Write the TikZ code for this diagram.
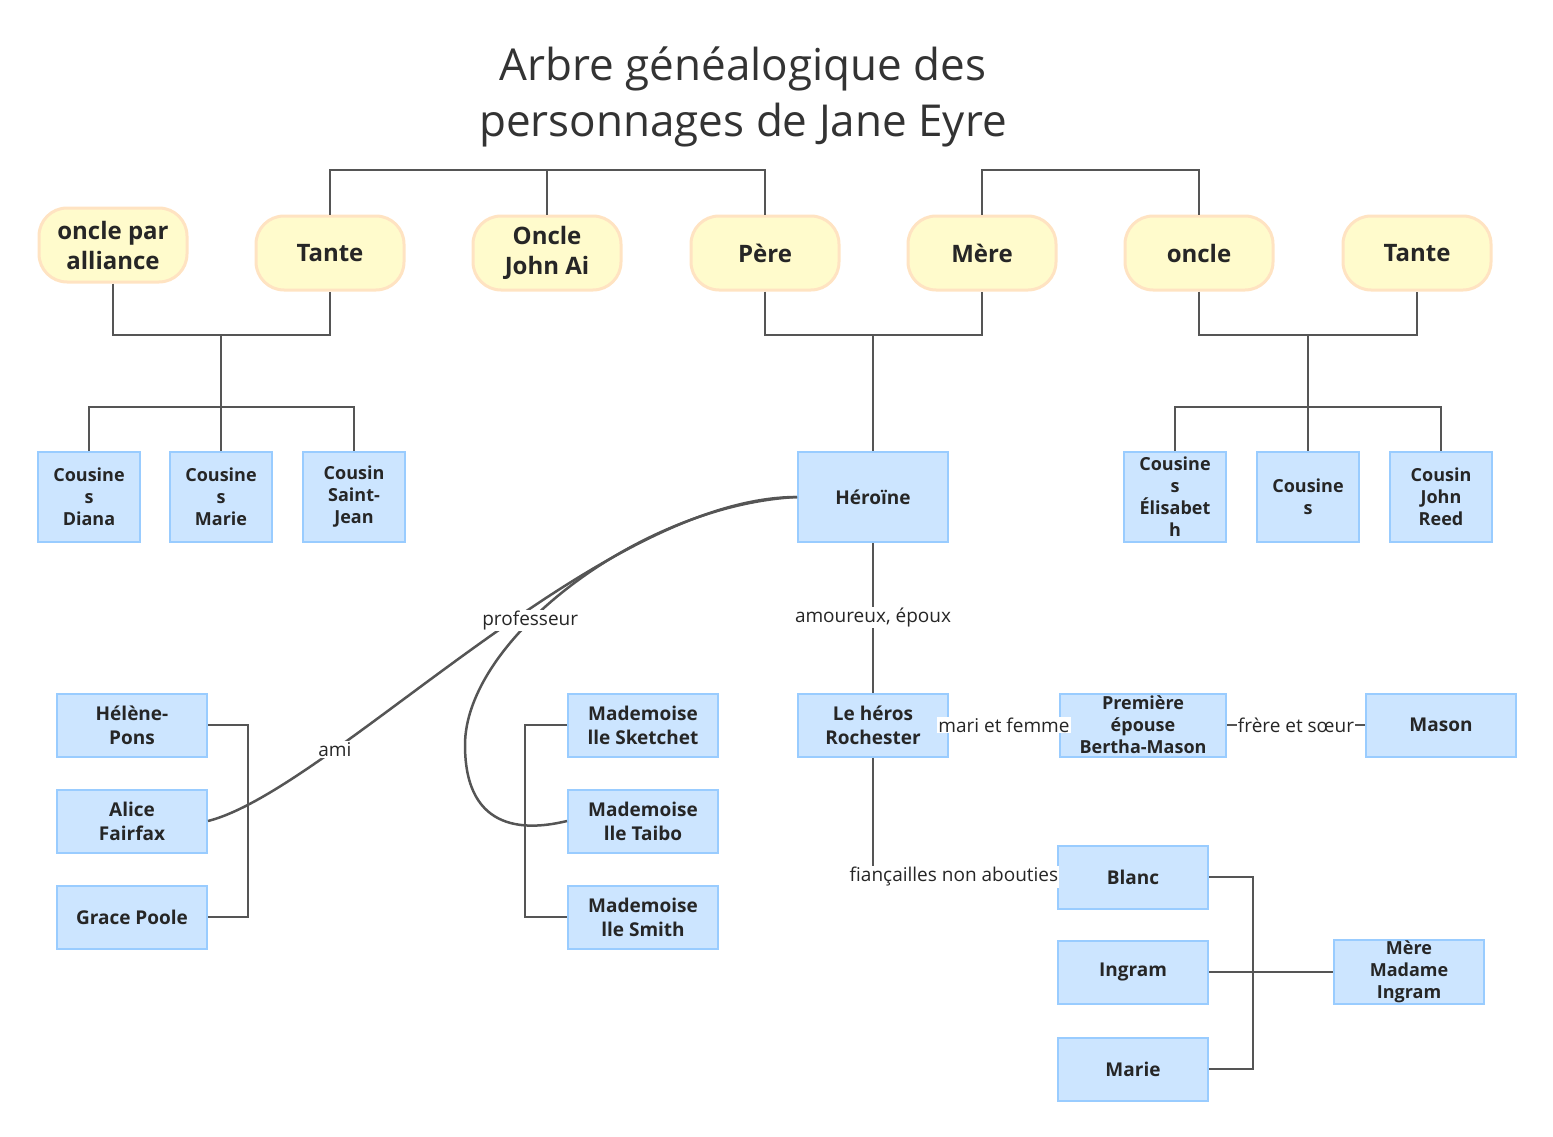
\documentclass[tikz,border=0pt]{standalone}
\usepackage{fontspec}
\setmainfont{Open Sans}
\usetikzlibrary{positioning}
\definecolor{parentfill}{HTML}{FFFBCC}
\definecolor{parentline}{HTML}{FFE3C2}
\definecolor{kidfill}{HTML}{CCE5FF}
\definecolor{kidline}{HTML}{99CCFF}
\definecolor{wire}{HTML}{555555}
\tikzset{
  parent/.style={rectangle,rounded corners=28pt,draw=parentline,line width=3pt,fill=parentfill,
    minimum width=148pt,minimum height=74pt,align=center,font=\fontsize{24}{30}\selectfont\bfseries,text=black!85},
  kid/.style={rectangle,draw=kidline,line width=2pt,fill=kidfill,minimum width=150pt,minimum height=63pt,
    inner sep=1pt,align=center,font=\fontsize{19}{24}\selectfont\bfseries,text=black!85},
  cousin/.style={kid,minimum width=102pt,minimum height=90pt,font=\fontsize{18}{22}\selectfont\bfseries},
  link/.style={draw=wire,line width=2.5pt},
  tag/.style={fill=white,inner sep=1pt,font=\fontsize{19}{24}\selectfont,text=black!85}
}
\begin{document}
\begin{tikzpicture}[x=1pt,y=-1pt]
  \useasboundingbox (0,0) rectangle (1553,1137);
  \node[align=center,font=\fontsize{44}{56}\selectfont,text=black!80] (title) at (743,97) {Arbre généalogique des\\personnages de Jane Eyre};
  % parents
  \node[parent] (alliance) at (113,245) {oncle par\\alliance};
  \node[parent] (tante1) at (330,253) {Tante};
  \node[parent] (johnai) at (547,253) {Oncle\\John Ai};
  \node[parent] (pere) at (765,253) {Père};
  \node[parent] (mere) at (982,253) {Mère};
  \node[parent] (oncle) at (1199,253) {oncle};
  \node[parent] (tante2) at (1417,253) {Tante};
  % cousins
  \node[cousin] (diana) at (89,497) {Cousine\\s\\Diana};
  \node[cousin] (marie1) at (221,497) {Cousine\\s\\Marie};
  \node[cousin] (stjean) at (354,497) {Cousin\\Saint-\\Jean};
  \node[kid,minimum height=90pt] (heroine) at (873,497) {Héroïne};
  \node[cousin] (elisabeth) at (1175,497) {Cousine\\s\\Élisabet\\h};
  \node[cousin] (cousines) at (1308,497) {Cousine\\s};
  \node[cousin] (reed) at (1441,497) {Cousin\\John\\Reed};
  % lower row
  \node[kid] (helene) at (132,725) {Hélène-\\Pons};
  \node[kid] (alice) at (132,821) {Alice\\Fairfax};
  \node[kid] (grace) at (132,917) {Grace Poole};
  \node[kid] (sketchet) at (643,725) {Mademoise\\lle Sketchet};
  \node[kid] (taibo) at (643,821) {Mademoise\\lle Taibo};
  \node[kid] (smith) at (643,917) {Mademoise\\lle Smith};
  \node[kid] (rochester) at (873,725) {Le héros\\Rochester};
  \node[kid,minimum width=166pt,font=\fontsize{18}{22}\selectfont\bfseries] (bertha) at (1143,725) {Première\\épouse\\Bertha-Mason};
  \node[kid] (mason) at (1441,725) {Mason};
  \node[kid] (blanc) at (1133,877) {Blanc};
  \node[kid] (ingram) at (1133,972) {Ingram};
  \node[kid] (marie2) at (1133,1069) {Marie};
  \node[kid,font=\fontsize{18}{22}\selectfont\bfseries] (madame) at (1409,972) {Mère\\Madame\\Ingram};
  % family lines
  \draw[link] (tante1.north) |- (330,170) -| (pere.north);
  \draw[link] (johnai.north) -- (547,170);
  \draw[link] (mere.north) |- (982,170) -| (oncle.north);
  \draw[link] (alliance.south) |- (221,335) -| (tante1.south);
  \draw[link] (221,335) -- (221,407);
  \draw[link] (diana.north) |- (221,407) -| (stjean.north);
  \draw[link] (marie1.north) -- (221,407);
  \draw[link] (pere.south) |- (873,335) -| (mere.south);
  \draw[link] (873,335) -- (heroine.north);
  \draw[link] (oncle.south) |- (1308,335) -| (tante2.south);
  \draw[link] (1308,335) -- (cousines.north);
  \draw[link] (elisabeth.north) |- (1308,407) -| (reed.north);
  % relations
  \draw[link] (heroine.south) -- node[tag] {amoureux, époux} (rochester.north);
  \draw[link] (rochester.east) -- node[tag] {mari et femme} (bertha.west);
  \draw[link] (bertha.east) -- node[tag] {frère et sœur} (mason.west);
  \draw[link] (rochester.south) |- node[tag,pos=0.72] {fiançailles non abouties} (blanc.west);
  \draw[link] (blanc.east) -| (1253,1069) -- (marie2.east);
  \draw[link] (ingram.east) -- (madame.west);
  \draw[link] (helene.east) -| (248,917) -- (grace.east);
  \draw[link] (sketchet.west) -| (525,917) -- (smith.west);
  \draw[link] (alice.east) .. controls (330,790) and (600,497) .. node[tag,pos=0.27] {ami} (heroine.west);
  \draw[link] (heroine.west) .. controls (640,505) and (465,640) .. node[tag,pos=0.62] {professeur} (465,745)
    .. controls (465,835) and (530,830) .. (taibo.west);
\end{tikzpicture}
\end{document}
